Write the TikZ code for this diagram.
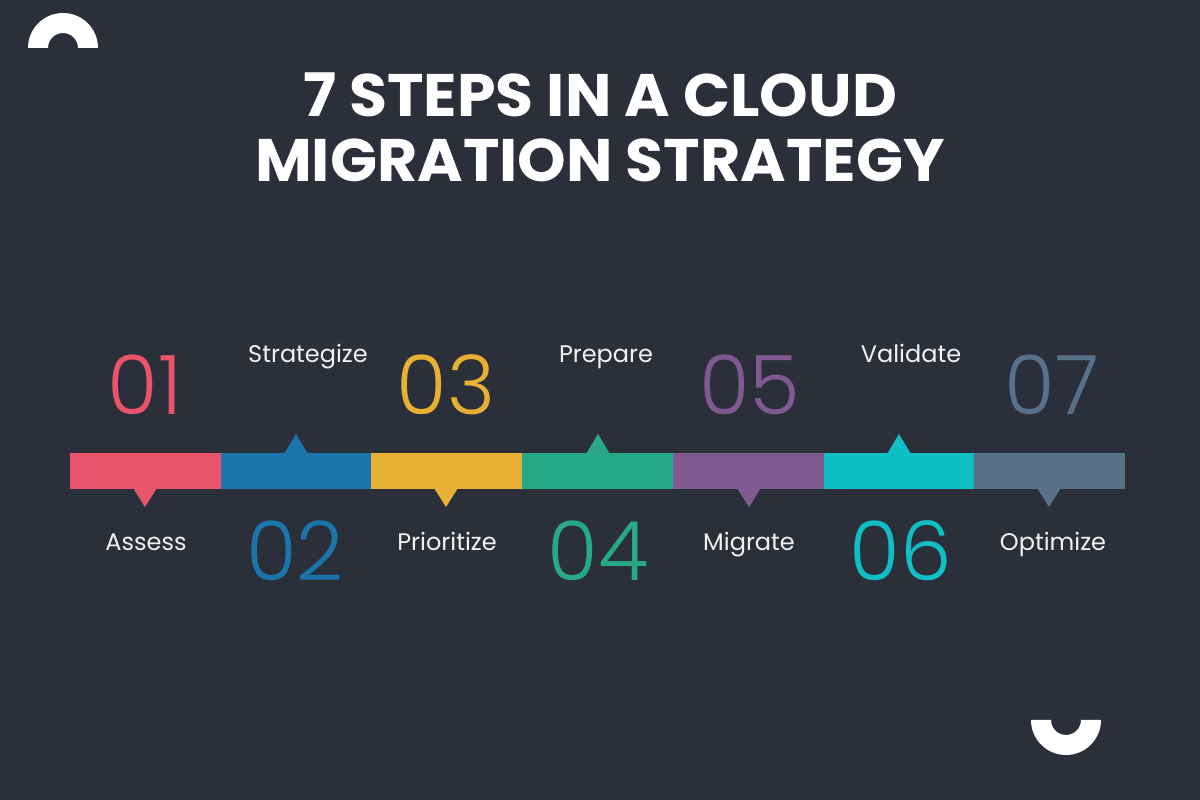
\documentclass[tikz,border=0pt]{standalone}
\usepackage{fontspec}
\setmainfont{Poppins}
\newfontfamily\numfont{Poppins}[UprightFont={* Light}]
\newfontfamily\titlefont{Poppins}[FakeStretch=1.03]
\usepackage{tikz}
\definecolor{bgdark}{HTML}{2B2F3A}
\definecolor{stepA}{HTML}{E8546A}
\definecolor{stepB}{HTML}{1B75AB}
\definecolor{stepC}{HTML}{E7B034}
\definecolor{stepD}{HTML}{27A888}
\definecolor{stepE}{HTML}{7E5A90}
\definecolor{stepF}{HTML}{0FBFC4}
\definecolor{stepG}{HTML}{587088}
\definecolor{labelwhite}{HTML}{F2F2F2}
\tikzset{
  steplabel/.style={anchor=base,inner sep=0pt,text=labelwhite,font=\fontsize{24}{28}\selectfont},
  stepnum/.style={anchor=base,inner sep=0pt,font=\fontsize{82}{92}\numfont},
  titleline/.style={anchor=base,inner sep=0pt,text=white,font=\fontsize{60}{68}\titlefont\bfseries}
}
\begin{document}
\begin{tikzpicture}[x=1pt,y=1pt]
            % Background
            \fill[bgdark](0,0)rectangle(1200,800);
            \useasboundingbox(0,0)rectangle(1200,800);
            % Corner arcs
            \fill[white](28,752)arc[start angle=180,end angle=0,radius=35]--(78,752)arc[start angle=0,end angle=180,radius=15]--cycle;
            \fill[white](1031,80)arc[start angle=180,end angle=360,radius=35]--(1081,80)arc[start angle=0,end angle=-180,radius=15]--cycle;
            % Title
            \node[titleline](title1)at(600,683){7 STEPS IN A CLOUD};
            \node[titleline](title2)at(600,618){MIGRATION STRATEGY};
            % Bar segments
            \fill[stepA](70,311)rectangle(221,347);
            \fill[stepB](221,311)rectangle(371,347);
            \fill[stepC](371,311)rectangle(522,347);
            \fill[stepD](522,311)rectangle(673,347);
            \fill[stepE](673,311)rectangle(824,347);
            \fill[stepF](824,311)rectangle(974,347);
            \fill[stepG](974,311)rectangle(1125,347);
            % Pointers
            \fill[stepA](133,312)--(157,312)--(145,293)--cycle;
            \fill[stepB](284,346)--(308,346)--(296,366)--cycle;
            \fill[stepC](434,312)--(458,312)--(446,293)--cycle;
            \fill[stepD](586,346)--(610,346)--(598,366)--cycle;
            \fill[stepE](737,312)--(761,312)--(749,293)--cycle;
            \fill[stepF](887,346)--(911,346)--(899,366)--cycle;
            \fill[stepG](1037,312)--(1061,312)--(1049,293)--cycle;
            % Step numbers
            \node[stepnum,text=stepA](num1)at(145,385){01};
            \node[stepnum,text=stepB](num2)at(295,219){02};
            \node[stepnum,text=stepC](num3)at(446,385){03};
            \node[stepnum,text=stepD](num4)at(598,219){04};
            \node[stepnum,text=stepE](num5)at(750,385){05};
            \node[stepnum,text=stepF](num6)at(901,219){06};
            \node[stepnum,text=stepG](num7)at(1052,385){07};
            % Step labels
            \node[steplabel](lab1)at(146,249){Assess};
            \node[steplabel](lab2)at(308,437){Strategize};
            \node[steplabel](lab3)at(447,249){Prioritize};
            \node[steplabel](lab4)at(606,437){Prepare};
            \node[steplabel](lab5)at(749,249){Migrate};
            \node[steplabel](lab6)at(911,437){Validate};
            \node[steplabel](lab7)at(1053,249){Optimize};
        \end{tikzpicture}
\end{document}
